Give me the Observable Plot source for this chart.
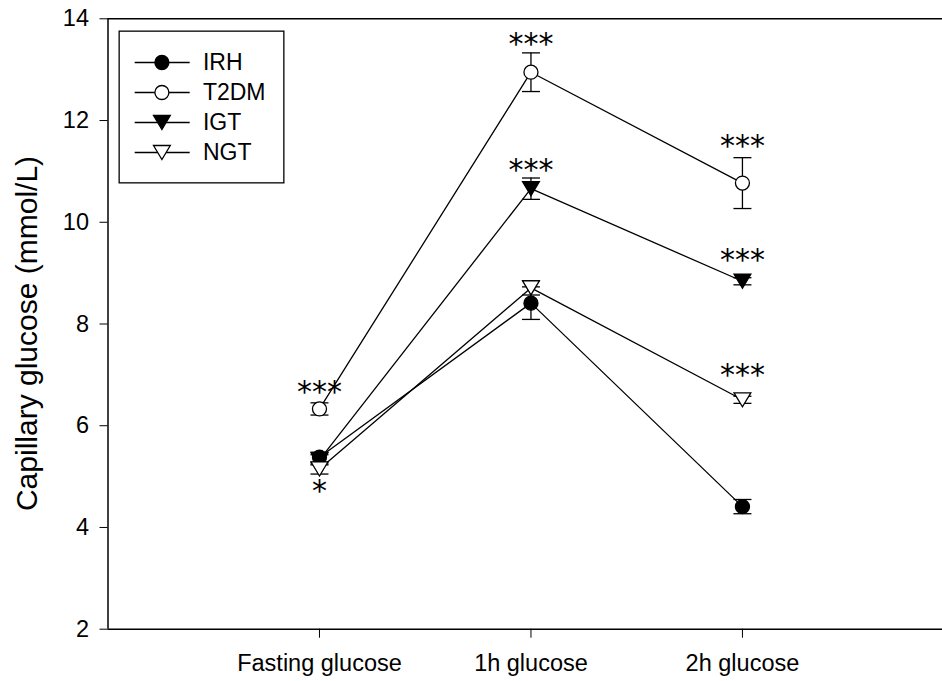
<!DOCTYPE html>
<html>
<head>
<meta charset="utf-8">
<script src="https://cdn.jsdelivr.net/npm/d3@7"></script>
<script src="https://cdn.jsdelivr.net/npm/@observablehq/plot@0.6"></script>
<style>
  body { margin: 0; background: #fff; }
  #wrap { position: relative; width: 942px; height: 681px; overflow: hidden; }
  #legend { position: absolute; left: 118px; top: 30px; }
</style>
</head>
<body>
<div id="wrap"><div id="main"></div><div id="legend"></div></div>
<script>
// ---- data ----
const timepoints = ["Fasting glucose", "1h glucose", "2h glucose"];
const timeX = [1, 2, 3];
const groups = ["IRH", "T2DM", "IGT", "NGT"];
const yTicks = [2, 4, 6, 8, 10, 12, 14];

const irhMean  = [5.38, 8.41, 4.41];
const irhSE    = [0.10, 0.32, 0.14];
const t2dmMean = [6.33, 12.95, 10.77];
const t2dmSE   = [0.12, 0.38, 0.50];
const igtMean  = [5.33, 10.66, 8.84];
const igtSE    = [0.10, 0.21, 0.07];
const ngtMean  = [5.15, 8.71, 6.51];
const ngtSE    = [0.10, 0.14, 0.07];

// significance marks: group, time point, label, vertical value
const sigGroup = ["T2DM", "T2DM", "T2DM", "IGT", "IGT", "NGT", "NGT"];
const sigTime  = [1, 2, 3, 2, 3, 3, 1];
const sigText  = ["***", "***", "***", "***", "***", "***", "*"];
const sigY     = [6.73, 13.57, 11.57, 11.08, 9.31, 7.05, 4.77];

// ---- tables ----
const meanBy = {IRH: irhMean, T2DM: t2dmMean, IGT: igtMean, NGT: ngtMean};
const seBy = {IRH: irhSE, T2DM: t2dmSE, IGT: igtSE, NGT: ngtSE};
const rows = groups.flatMap(g => timeX.map((t, i) => ({group: g, t, mean: meanBy[g][i], se: seBy[g][i]})));
const sigRows = sigText.map((s, i) => ({group: sigGroup[i], t: sigTime[i], label: s, y: sigY[i]}));

// ---- symbols ----
const downTriangle = {
  draw(ctx, size) {
    const r = Math.sqrt(size / Math.PI);
    const w = 1.2 * r;
    ctx.moveTo(-w, -r); ctx.lineTo(w, -r); ctx.lineTo(0, r); ctx.closePath();
  }
};
const capSymbol = {
  draw(ctx, size) { ctx.moveTo(-9, 0); ctx.lineTo(9, 0); }
};
const style = {
  IRH:  {symbol: "circle", fill: "black"},
  T2DM: {symbol: "circle", fill: "white"},
  IGT:  {symbol: downTriangle, fill: "black"},
  NGT:  {symbol: downTriangle, fill: "white"}
};

const font = "'Liberation Sans', Arial, Helvetica, sans-serif";

const main = Plot.plot({
  width: 942,
  height: 681,
  marginLeft: 107.5,
  marginRight: 0,
  marginTop: 18.3,
  marginBottom: 52.3,
  style: {fontFamily: font, fontSize: "23.5px", color: "black", background: "white", overflow: "visible"},
  x: {domain: [0, 3.946], ticks: timeX, tickFormat: d => timepoints[d - 1], tickSize: 9, tickPadding: 16, label: null},
  y: {domain: [2, 14], ticks: yTicks, tickSize: 8, tickPadding: 11, label: null},
  marks: [
    Plot.ruleY([14], {stroke: "black", strokeWidth: 1.5}),
    Plot.ruleY([2], {stroke: "black", strokeWidth: 1.5}),
    Plot.ruleX([0], {stroke: "black", strokeWidth: 1.5}),
    Plot.line(rows, {x: "t", y: "mean", z: "group", stroke: "black", strokeWidth: 1.3}),
    Plot.ruleX(rows, {x: "t", y1: d => d.mean - d.se, y2: d => d.mean + d.se, stroke: "black", strokeWidth: 1.3}),
    Plot.dot(rows, {x: "t", y: d => d.mean - d.se, symbol: capSymbol, r: 5, fill: "none", stroke: "black", strokeWidth: 1.3}),
    Plot.dot(rows, {x: "t", y: d => d.mean + d.se, symbol: capSymbol, r: 5, fill: "none", stroke: "black", strokeWidth: 1.3}),
    ...groups.map(g => Plot.dot(rows.filter(d => d.group === g), {
      x: "t", y: "mean", r: 7, symbol: style[g].symbol, fill: style[g].fill, stroke: "black", strokeWidth: 1.3
    })),
    Plot.text(sigRows, {x: "t", y: "y", text: "label", fontFamily: "'DejaVu Sans', sans-serif", fontSize: 30, dy: 3.5, fill: "black"}),
    Plot.text(["Capillary glucose (mmol/L)"], {text: d => d, frameAnchor: "left", textAnchor: "middle", rotate: -90, dx: -80.5, dy: 9.5, fontSize: 30, fill: "black"})
  ]
});
document.getElementById("main").appendChild(main);

const legend = Plot.plot({
  width: 166,
  height: 153,
  margin: 0,
  style: {fontFamily: font, fontSize: "23px", color: "black", background: "white", overflow: "visible"},
  x: {domain: [0, 166], range: [0, 166], axis: null},
  y: {type: "point", domain: groups, range: [31, 123.3], padding: 0, axis: null},
  marks: [
    Plot.frame({stroke: "black", strokeWidth: 1.3, inset: 0.65}),
    Plot.ruleY(groups, {y: d => d, x1: 16.7, x2: 71.7, stroke: "black", strokeWidth: 1.3}),
    ...groups.map(g => Plot.dot([g], {y: d => d, x: 43.4, r: 7, symbol: style[g].symbol, fill: style[g].fill, stroke: "black", strokeWidth: 1.3})),
    Plot.text(groups, {y: d => d, x: 84.4, text: d => d, textAnchor: "start", fill: "black"})
  ]
});
document.getElementById("legend").appendChild(legend);
</script>
</body>
</html>
